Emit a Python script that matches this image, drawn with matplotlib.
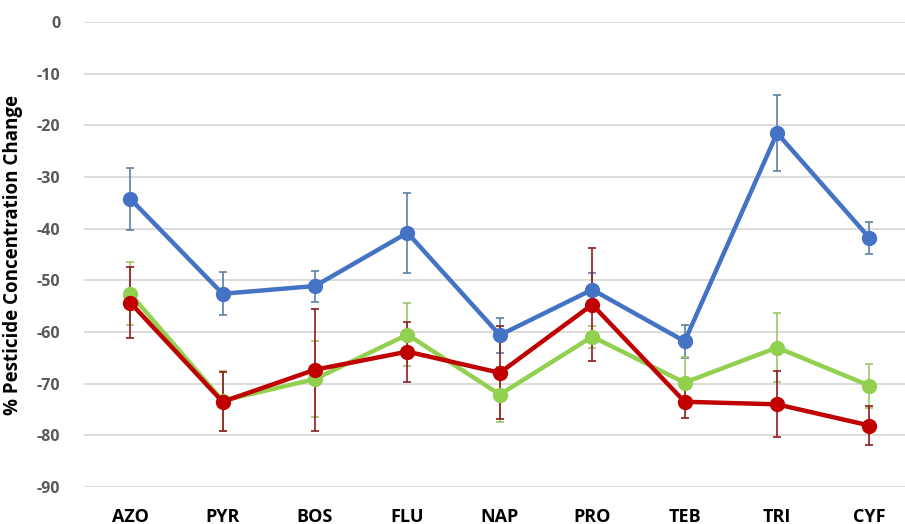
import matplotlib.pyplot as plt
import numpy as np

plt.rcParams['font.family'] = ['Open Sans', 'DejaVu Sans']
plt.rcParams['axes.unicode_minus'] = False

pesticidas = ['AZO', 'PYR', 'BOS', 'FLU', 'NAP', 'PRO', 'TEB', 'TRI', 'CYF']

# % change por tratamento (media e desvio)
azul = [-34.2, -52.6, -51.1, -40.8, -60.6, -51.8, -61.8, -21.5, -41.8]
azul_err = [6.0, 4.2, 3.0, 7.8, 3.4, 3.3, 3.2, 7.3, 3.1]

verde = [-52.6, -73.3, -69.1, -60.5, -72.1, -60.9, -69.8, -63.0, -70.4]
verde_err = [6.1, 5.8, 7.4, 6.1, 5.4, 2.1, 4.9, 6.6, 4.3]

vermelho = [-54.3, -73.5, -67.3, -63.8, -67.9, -54.7, -73.5, -74.0, -78.1]
vermelho_err = [6.8, 5.7, 11.8, 5.8, 9.0, 11.0, 3.1, 6.4, 3.7]

x = np.arange(len(pesticidas))

fig = plt.figure(figsize=(9.05, 5.24), dpi=100)
ax = fig.add_axes([0.0928, 0.0706, 0.919, 0.8874])

series = [
    (azul, azul_err, '#4472C4', '#5b7fa6'),
    (verde, verde_err, '#92D050', '#9cc46a'),
    (vermelho, vermelho_err, '#C00000', '#8e1c1c'),
]
for vals, err, cor, cor_err in series:
    ax.errorbar(x, vals, yerr=err, fmt='none', ecolor=cor_err,
                elinewidth=1.2, capsize=3, capthick=1.2, zorder=2)
    ax.plot(x, vals, color=cor, lw=3.2, marker='o', markersize=10,
            zorder=3)

ax.set_xlim(-0.5, 8.5)
ax.set_ylim(-90, 0)
ax.set_yticks(np.arange(-90, 1, 10))
ax.set_xticks(x)
ax.set_xticklabels(pesticidas, fontsize=13, fontweight='bold', color='black')
for lab in ax.get_yticklabels():
    lab.set_fontsize(11.5)
    lab.set_fontweight('bold')
    lab.set_color('#595959')

ax.tick_params(axis='both', length=0)
ax.tick_params(axis='x', pad=15)
ax.tick_params(axis='y', pad=17)
ax.yaxis.grid(True, color='#d9d9d9', lw=1.3)
ax.set_axisbelow(True)
for s in ax.spines.values():
    s.set_visible(False)

ax.set_ylabel('% Pesticide Concentration Change', fontsize=13.5,
              fontweight='bold')
ax.yaxis.set_label_coords(-0.073, 0.5)

fig.savefig('out.png', dpi=100)
